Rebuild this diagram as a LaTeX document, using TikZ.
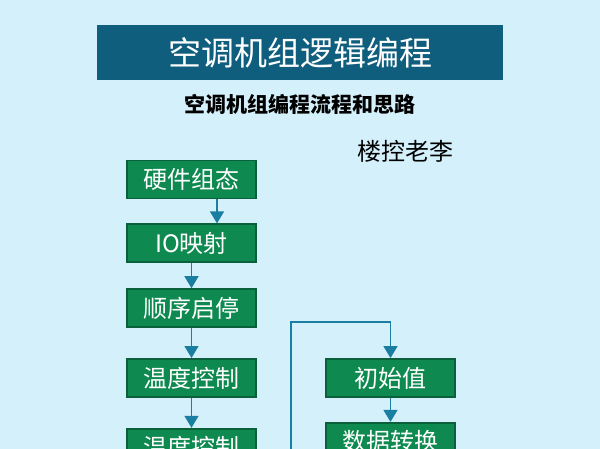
\documentclass[tikz,border=0pt]{standalone}
\usepackage{fontspec}
\setmainfont{Noto Sans CJK SC}
\usetikzlibrary{arrows.meta, positioning}
\definecolor{bgblue}{RGB}{212,240,251}
\definecolor{titleteal}{RGB}{16,94,126}
\definecolor{boxgreen}{RGB}{14,138,80}
\definecolor{boxedge}{RGB}{10,96,58}
\definecolor{linkblue}{RGB}{26,126,160}
\tikzstyle{titlebar} = [rectangle, minimum width=406pt, minimum height=55pt, fill=titleteal, text=white, font=\fontsize{33}{33}\selectfont]
\tikzstyle{stepbox} = [rectangle, minimum width=129pt, minimum height=38pt, inner sep=0pt, text centered, draw=boxedge, line width=1.8pt, fill=boxgreen, text=white, font=\fontsize{24}{24}\selectfont]
\tikzstyle{arrow} = [line width=1.5pt, draw=linkblue, -{Triangle[width=14pt,length=12pt]}]

\begin{document}
\begin{tikzpicture}[x=1pt, y=-1pt]
\clip (0,0) rectangle (600,449);
\fill[bgblue] (0,0) rectangle (600,449);

% Heading
\node (title) [titlebar] at (300,52.5) {空调机组逻辑编程};
\node (subtitle) [font=\bfseries\fontsize{21}{21}\selectfont] at (300,104) {空调机组编程流程和思路};
\node (author) [font=\fontsize{24}{24}\selectfont] at (405,151) {楼控老李};

% Main steps
\node (hw) [stepbox] at (191.5,179.5) {硬件组态};
\node (io) [stepbox, below=24pt of hw] {IO映射};
\node (seq) [stepbox, below=25pt of io] {顺序启停};
\node (temp) [stepbox, below=30pt of seq] {温度控制};
\node (tempnext) [stepbox, below=30pt of temp] {温度控制};

% Sub steps
\node (init) [stepbox] at (390.5,378) {初始值};
\node (conv) [stepbox, below=24pt of init] {数据转换};

% Arrows
\draw [arrow] ([xshift=25.5pt]hw.south) -- ([xshift=25.5pt]io.north);
\draw [arrow] (io) -- (seq);
\draw [arrow] (seq) -- (temp);
\draw [arrow] (temp) -- (tempnext);
\draw [arrow] (init) -- (conv);

% Loop line
\coordinate (loopin) at (291,449);
\coordinate (looptop) at (291,322);
\draw [arrow, line width=1.2pt] (loopin) -- (looptop) -| (init.north);

\end{tikzpicture}
\end{document}
